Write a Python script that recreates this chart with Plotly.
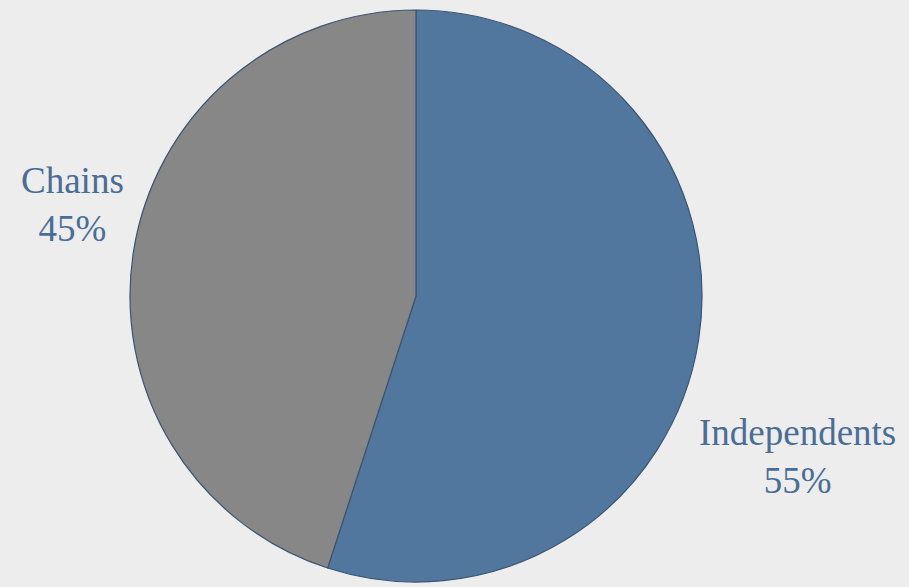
import plotly.graph_objects as go

# Share of outlets by ownership type
labels = ["Independents", "Chains"]
values = [55, 45]
colors = ["#52779f", "#878787"]

# label anchor points (paper coords) for each slice label
label_x = [0.877, 0.080]
label_y = [0.222, 0.652]

W, H = 909, 587
cx, cy, r = 416, 296, 286  # pie centre and radius in pixels

fig = go.Figure()
fig.add_trace(go.Pie(
    labels=labels,
    values=values,
    marker=dict(colors=colors, line=dict(color="#3d5470", width=1.2)),
    sort=False,
    direction="clockwise",
    rotation=0,
    textinfo="none",
    hoverinfo="label+percent",
    showlegend=False,
    domain=dict(x=[(cx - r) / W, (cx + r) / W],
                y=[(H - cy - r) / H, (H - cy + r) / H]),
))

total = sum(values)
for lab, val, x, y in zip(labels, values, label_x, label_y):
    fig.add_annotation(
        x=x, y=y, xref="paper", yref="paper",
        xanchor="center", yanchor="middle",
        text=f"{lab}<br>{round(100 * val / total)}%",
        showarrow=False,
        font=dict(family="Liberation Serif, Times New Roman, serif", size=37, color="#4a6d96"),
        align="center",
    )

fig.update_layout(
    width=W, height=H,
    margin=dict(l=0, r=0, t=0, b=0),
    paper_bgcolor="#ededed",
    plot_bgcolor="#ededed",
)

fig.write_html("out.html")
